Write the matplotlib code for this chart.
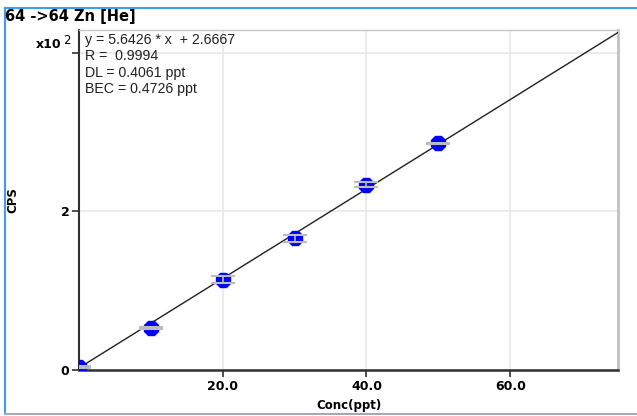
import matplotlib
matplotlib.use("Agg")
import matplotlib.pyplot as plt
from matplotlib.lines import Line2D

# calibration standards (ppt) and measured counts
conc = [0, 10, 20, 30, 40, 50]
cps = [4, 53, 114, 166, 234, 286]
cps_err = [1, 1, 4, 4, 3, 1]

# fit results
slope = 5.6426
intercept = 2.6667
fit_text = ["y = 5.6426 * x  + 2.6667", "R =  0.9994", "DL = 0.4061 ppt", "BEC = 0.4726 ppt"]

scale = 100.0  # y axis shown in units of x10^2
x_max = 75

fig = plt.figure(figsize=(6.37, 4.16), dpi=100)
ax = fig.add_axes([79 / 637, 46 / 416, (618 - 79) / 637, (370 - 30) / 416])

# regression line
ax.plot([0, x_max], [intercept / scale, (slope * x_max + intercept) / scale],
        color="#202020", lw=1.0, zorder=3)

# standards with error bars on top of the markers
ax.plot(conc, [c / scale for c in cps], ls="none", marker="8", ms=10.5,
        color="#0000ff", mec="#0000ff", zorder=4)
ax.errorbar(conc, [c / scale for c in cps], yerr=[e / scale for e in cps_err],
            fmt="none", ecolor="#bcbcbc", elinewidth=1.2, capsize=8.5, capthick=1.5, zorder=5)

ax.set_xlim(0, x_max)
ax.set_ylim(0, 4.29)
ax.set_xticks([20, 40, 60])
ax.set_xticklabels(["20.0", "40.0", "60.0"])
ax.set_yticks([0, 2, 4])
ax.set_yticklabels(["0", "2", ""])
ax.grid(True, color="#e8e8e8", lw=1.2)
ax.set_axisbelow(True)

for lab in ax.get_xticklabels() + ax.get_yticklabels():
    lab.set_fontweight("bold")
    lab.set_fontsize(9)
ax.tick_params(direction="out", length=5, width=1.2, color="#303030", pad=2)

ax.spines["left"].set_color("#303030")
ax.spines["bottom"].set_color("#303030")
ax.spines["left"].set_linewidth(1.5)
ax.spines["bottom"].set_linewidth(1.8)
ax.spines["right"].set_color("#c4c4c4")
ax.spines["right"].set_linewidth(2.2)
ax.spines["top"].set_color("#c8c8c8")
ax.spines["top"].set_linewidth(1.0)

# equation block
for i, line in enumerate(fit_text):
    fig.text(85 / 637, 1 - (40 + i * 16.3) / 416, line, family="Liberation Sans",
             fontsize=10.2, color="#202020", va="center", ha="left")

fig.text(5 / 637, 1 - 17 / 416, "64 ->64 Zn [He]", fontweight="bold", fontsize=10.5,
         va="center", ha="left")
fig.text(61 / 637, 1 - 45 / 416, "x10", fontweight="bold", fontsize=9, va="center", ha="right")
fig.text(63 / 637, 1 - 41 / 416, "2", fontsize=8.5, va="center", ha="left")
fig.text(13 / 637, 1 - 200 / 416, "CPS", fontweight="bold", fontsize=8.5, rotation=90,
         va="center", ha="center")
fig.text(349 / 637, 1 - 405 / 416, "Conc(ppt)", fontweight="bold", fontsize=8.5,
         va="center", ha="center")

# window frame
fig.add_artist(Line2D([4.5 / 637, 1], [1 - 8 / 416, 1 - 8 / 416], color="#3c9cf0", lw=1.5))
fig.add_artist(Line2D([4.5 / 637, 4.5 / 637], [1 - 8 / 416, 1 - 414 / 416], color="#3c9cf0", lw=1.5))
fig.add_artist(Line2D([4.5 / 637, 1], [1 - 414 / 416, 1 - 414 / 416], color="#a8a8b4", lw=1.5))

fig.savefig("out.png", dpi=100)
